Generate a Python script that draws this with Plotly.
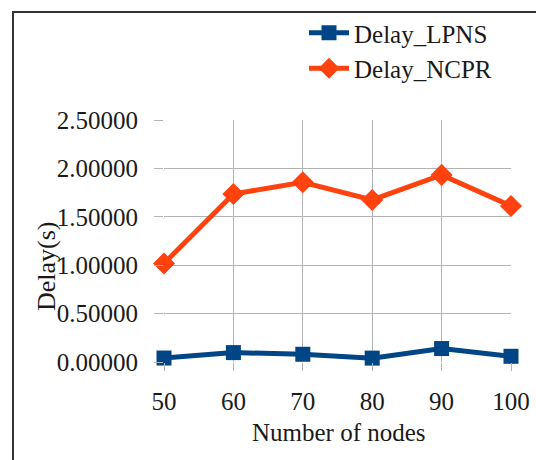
import plotly.graph_objects as go

nodes = [50, 60, 70, 80, 90, 100]
delay_lpns = [0.041, 0.097, 0.080, 0.040, 0.139, 0.059]
delay_ncpr = [1.018, 1.736, 1.857, 1.674, 1.933, 1.612]
y_ticks = [0.0, 0.5, 1.0, 1.5, 2.0, 2.5]

W, H = 536, 460
L, R, T, B = 164, 25, 120, 98
pw, ph = W - L - R, H - T - B

def px(x):
    return (x - L) / pw

def py(y):
    return (H - B - y) / ph

FONT = "Liberation Serif"
TXT = "#1a1a1a"

fig = go.Figure()
fig.add_trace(go.Scatter(
    x=nodes, y=delay_lpns, name="Delay_LPNS", mode="lines+markers",
    line=dict(color="#004586", width=5),
    marker=dict(symbol="square", size=15, color="#004586"),
    cliponaxis=False,
))
fig.add_trace(go.Scatter(
    x=nodes, y=delay_ncpr, name="Delay_NCPR", mode="lines+markers",
    line=dict(color="#ff420e", width=5),
    marker=dict(symbol="diamond", size=17, color="#ff420e"),
    cliponaxis=False,
))

fig.update_layout(
    width=W, height=H,
    margin=dict(l=L, r=R, t=T, b=B, pad=0, autoexpand=False),
    paper_bgcolor="white", plot_bgcolor="white",
    font=dict(family=FONT, size=25, color=TXT),
    showlegend=True,
    legend=dict(
        x=px(304), y=py(10), xanchor="left", yanchor="top",
        font=dict(family=FONT, size=25, color=TXT),
        bgcolor="rgba(0,0,0,0)", tracegroupgap=0, itemwidth=40,
    ),
    xaxis=dict(
        range=[50, 100], tickvals=nodes, ticktext=[str(n) for n in nodes],
        showgrid=True, gridcolor="#b3b3b3", gridwidth=1,
        zeroline=False, showline=False,
        ticks="outside", ticklen=8, tickcolor="#b3b3b3",
        ticklabelstandoff=9,
        tickfont=dict(family=FONT, size=25, color=TXT),
    ),
    yaxis=dict(
        range=[0, 2.5], tickvals=y_ticks, tickformat=".5f",
        showgrid=True, gridcolor="#b3b3b3", gridwidth=1,
        zeroline=False, showline=False,
        ticks="outside", ticklen=9, tickcolor="#b3b3b3",
        ticklabelstandoff=11,
        tickfont=dict(family=FONT, size=25, color=TXT),
    ),
    annotations=[
        dict(text="Number of nodes", xref="paper", yref="paper",
             x=px(339), y=py(432), xanchor="center", yanchor="middle",
             showarrow=False, font=dict(family=FONT, size=25, color=TXT)),
        dict(text="Delay(s)", xref="paper", yref="paper",
             x=px(46), y=py(266), xanchor="center", yanchor="middle",
             textangle=-90, showarrow=False,
             font=dict(family=FONT, size=26, color=TXT)),
    ],
    shapes=[
        dict(type="rect", xref="paper", yref="paper",
             x0=px(13), x1=px(560), y0=py(480), y1=py(12),
             line=dict(color="#333333", width=2), fillcolor="rgba(0,0,0,0)",
             layer="below"),
    ],
)

fig.write_html(
    "out.html",
    config={"displayModeBar": False},
    post_script="document.body.style.margin='0';document.body.style.overflow='hidden';",
)
